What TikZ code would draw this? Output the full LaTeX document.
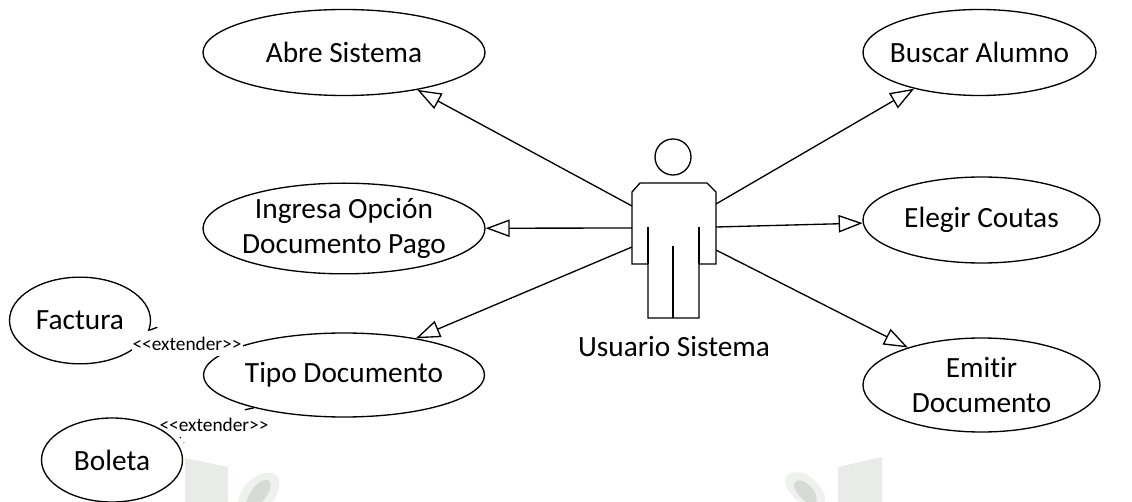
\documentclass[tikz,border=0pt]{standalone}
\usepackage{fontspec}
\setmainfont[Ligatures=NoCommon]{Carlito}
\usetikzlibrary{arrows.meta,shapes.geometric}
\definecolor{wmrect}{HTML}{E8EBE8}
\definecolor{wmhalo}{HTML}{EFF1EF}
\definecolor{wmcore}{HTML}{D6DBD6}
\tikzset{
 x=0.75pt,y=-0.75pt,
 uc/.style={draw,line width=1pt,ellipse,minimum width=#1*0.75pt,align=center,font=\fontsize{22}{26.5}\selectfont,inner sep=-40pt},
 assoc/.style={draw,line width=1pt,-{Triangle[open,length=18pt,width=13pt,fill=white]}},
 ext/.style={inner sep=0.5pt,font=\fontsize{14.5}{16}\selectfont},
 mask/.style={fill=white,draw=none},
 body/.style={draw,line width=1pt,line join=miter},
 extline/.style={line width=0.8pt,dash pattern=on 1pt off 4pt},
}
\newcommand{\extlabel}{{<}{<}extender{>}{>}}
\begin{document}
\begin{tikzpicture}
\useasboundingbox (0,0) rectangle (1132,502);
% watermark
\fill[wmrect] (185,458) -- (228,467) -- (228,502) -- (185,502) -- cycle;
\fill[wmhalo] (238,502) .. controls (240,485) and (258,470) .. (272,473) .. controls (284,477) and (280,492) .. (272,502) -- cycle;
\fill[wmcore] (246,502) .. controls (250,490) and (260,478) .. (268,480) .. controls (274,484) and (268,495) .. (262,502) -- cycle;
\fill[wmrect] (838,467) -- (882,457) -- (882,502) -- (838,502) -- cycle;
\fill[wmhalo] (785,480) .. controls (787,470) and (802,470) .. (812,478) .. controls (822,487) and (828,497) .. (824,502) -- (800,502) .. controls (792,497) and (785,488) .. (785,480) -- cycle;
\fill[wmcore] (794,484) .. controls (796,478) and (804,480) .. (810,486) .. controls (816,492) and (818,498) .. (816,502) -- (806,502) .. controls (800,497) and (793,490) .. (794,484) -- cycle;
% use cases
\node[uc=282,minimum height=64.5pt] (abre) at (344,52.5) {Abre Sistema};
\node[uc=282,minimum height=68pt] (ingresa) at (344,228.5) {Ingresa Opción\\Documento Pago};
\node[uc=281,minimum height=63pt] (tipo) at (344,375) {Tipo Documento};
\node[uc=233,minimum height=64.5pt] (buscar) at (979.5,52.5) {Buscar Alumno};
\node[uc=237,minimum height=64.5pt] (elegir) at (981.5,220) {Elegir Coutas};
\node[uc=237,minimum height=70.5pt] (emitir) at (981.5,385) {Emitir\\Documento};
\node[uc=141,minimum height=65pt] (factura) at (80,320.5) {\raisebox{-1.5pt}{Factura}};
% extend connectors and label masks
\fill[mask] (132,331) rectangle (243,356);
\fill[mask] (158,418) rectangle (270,436);
\draw[line width=1pt] (factura.-8) -- ++(8,-3);
\draw[line width=1pt] (tipo.200) -- ++(-9,2);
\node[ext] (e1) at (187,344) {\extlabel};
\node[ext] (e2) at (214,425) {\extlabel};
\node[uc=141,minimum height=63pt] (boleta) at (112,460) {Boleta};
\coordinate (d1) at (180,437);
\coordinate (d2) at (184,443);
\draw[extline] (d1) -- (d2);
% actor
\draw[line width=1pt] (673,157) circle (18);
\draw[body,fill=white] (632,192) -- (640,183) -- (707,183) -- (716,192) -- (716,264) -- (699,264) -- (699,318) -- (648,318) -- (648,264) -- (632,264) -- cycle;
\draw[body] (648,264) -- (648,227);
\draw[body] (699,264) -- (699,227);
\draw[body] (673,318) -- (673,246);
\node[font=\fontsize{22}{28}\selectfont,inner sep=0pt] (usuario) at (674,347) {Usuario Sistema};
\coordinate (a1) at (632,206);
\coordinate (a2) at (632,228);
\coordinate (a3) at (632,247);
\coordinate (b1) at (716,204);
\coordinate (b2) at (716,227);
\coordinate (b3) at (716,250);
\draw[assoc] (a1) -- (abre.-27.5);
\draw[assoc] (a2) -- (ingresa);
\draw[assoc] (a3) -- (tipo.27);
\draw[assoc] (b1) -- (buscar.209.9);
\draw[assoc] (b2) -- (elegir);
\draw[assoc] (b3) -- (emitir.153.3);
\end{tikzpicture}
\end{document}
